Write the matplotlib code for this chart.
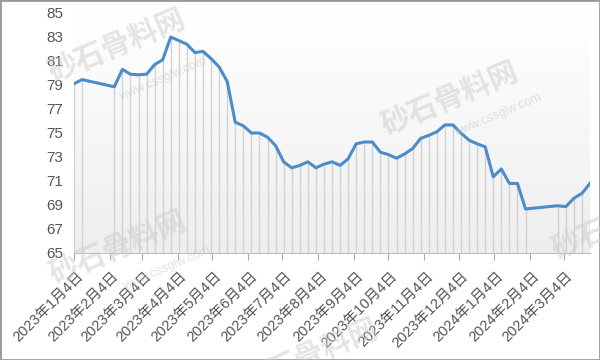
import matplotlib
matplotlib.use('Agg')
import matplotlib.pyplot as plt
import matplotlib.transforms as mtransforms
from matplotlib.colors import LinearSegmentedColormap
from matplotlib.patches import Rectangle
import matplotlib.dates as mdates
import numpy as np
import pandas as pd

dates = [
    '2023-01-04', '2023-01-11',
    '2023-02-08', '2023-02-15', '2023-02-22', '2023-03-01', '2023-03-08', '2023-03-15',
    '2023-03-22', '2023-03-29', '2023-04-05', '2023-04-12', '2023-04-19', '2023-04-26',
    '2023-05-03', '2023-05-10', '2023-05-17', '2023-05-24', '2023-05-31', '2023-06-07',
    '2023-06-14', '2023-06-21', '2023-06-28', '2023-07-05', '2023-07-12', '2023-07-19',
    '2023-07-26', '2023-08-02', '2023-08-09', '2023-08-16', '2023-08-23', '2023-08-30',
    '2023-09-06', '2023-09-13', '2023-09-20', '2023-09-27', '2023-10-04', '2023-10-11',
    '2023-10-18', '2023-10-25', '2023-11-01', '2023-11-08', '2023-11-15', '2023-11-22',
    '2023-11-29', '2023-12-06', '2023-12-13', '2023-12-20', '2023-12-27', '2024-01-03',
    '2024-01-10', '2024-01-17', '2024-01-24', '2024-01-31',
    '2024-02-28', '2024-03-06', '2024-03-13', '2024-03-20', '2024-03-27',
]
values = [
    79.1, 79.45,
    78.85, 80.3, 79.9, 79.85, 79.9, 80.7,
    81.1, 83.0, 82.7, 82.4, 81.7, 81.8,
    81.2, 80.5, 79.3, 75.9, 75.6, 75.0,
    75.0, 74.65, 73.95, 72.6, 72.1, 72.3,
    72.6, 72.1, 72.4, 72.6, 72.3, 72.85,
    74.1, 74.25, 74.25, 73.4, 73.2, 72.9,
    73.25, 73.7, 74.55, 74.8, 75.1, 75.67,
    75.67, 75.0, 74.4, 74.1, 73.85, 71.35,
    72.0, 70.8, 70.8, 68.67,
    68.94, 68.86, 69.56, 69.97, 70.8,
]
tick_dates = ['2023-01-04', '2023-02-04', '2023-03-04', '2023-04-04', '2023-05-04',
              '2023-06-04', '2023-07-04', '2023-08-04', '2023-09-04', '2023-10-04',
              '2023-11-04', '2023-12-04', '2024-01-04', '2024-02-04', '2024-03-04']
tick_labels = ['2023年1月4日', '2023年2月4日', '2023年3月4日', '2023年4月4日', '2023年5月4日',
               '2023年6月4日', '2023年7月4日', '2023年8月4日', '2023年9月4日', '2023年10月4日',
               '2023年11月4日', '2023年12月4日', '2024年1月4日', '2024年2月4日', '2024年3月4日']
y_ticks = [65, 67, 69, 71, 73, 75, 77, 79, 81, 83, 85]

plt.rcParams['font.family'] = ['Liberation Sans', 'Noto Sans CJK SC', 'DejaVu Sans']

x = pd.to_datetime(dates)
xt = pd.to_datetime(tick_dates)

fig = plt.figure(figsize=(6, 3.6), dpi=100)
fig.patch.set_facecolor('white')
ax = fig.add_axes([74 / 600, 107 / 360, 516 / 600, 240 / 360])

x0 = mdates.date2num(x[0])
x1 = mdates.date2num(x[-1])
cmap = LinearSegmentedColormap.from_list('bg', ['#ffffff', '#eeeeee'])
ax.imshow(np.linspace(0, 1, 256).reshape(-1, 1), extent=[x0, x1, 65, 85],
          aspect='auto', cmap=cmap, origin='upper', zorder=0, interpolation='bilinear')

ax.vlines(x, 65, values, color='#d2d2d2', lw=1, zorder=1)
ax.plot(x, values, color='#4a8dca', lw=2.2, zorder=4, solid_joinstyle='round')

ax.set_xlim(x0, x1)
ax.set_ylim(65, 85)
ax.set_yticks(y_ticks)
ax.set_xticks(xt)
ax.set_xticklabels([])
base = mtransforms.blended_transform_factory(ax.transData, ax.transAxes)
offset = mtransforms.ScaledTranslation(0.07, -0.21, fig.dpi_scale_trans)
for d, lab in zip(xt, tick_labels):
    ax.text(mdates.date2num(d), 0, lab, transform=base + offset, rotation=45,
            ha='right', va='center', rotation_mode='anchor', fontsize=10.5,
            color='#555555', clip_on=False)
ax.tick_params(axis='y', length=0, pad=8, labelsize=11, labelcolor='#555555')
ax.tick_params(axis='x', length=5, color='#aaaaaa', pad=3)
for s in ['top', 'right', 'left']:
    ax.spines[s].set_visible(False)
ax.spines['bottom'].set_color('#c0c0c0')
ax.set_facecolor('none')

# watermarks
wm_main = [(117, 45), (450, 98), (118, 247), (620, 222), (310, 355)]
wm_url = [(163, 79), (498, 115), (167, 268)]
for (px, py) in wm_main:
    fig.text(px / 600, 1 - py / 360, '砂石骨料网', family=['Noto Sans CJK SC'],
             fontsize=21, fontweight='bold', color='#cccccc', alpha=0.5,
             rotation=23, ha='center', va='center', zorder=3)
for (px, py) in wm_url:
    fig.text(px / 600, 1 - py / 360, 'www.cssglw.com', fontsize=9,
             color='#cccccc', alpha=0.6, rotation=23, ha='center', va='center', zorder=3)

fig.patches.append(Rectangle((0, 0), 1, 1, transform=fig.transFigure, fill=False,
                             edgecolor='#999999', lw=2))

fig.savefig('out.png', dpi=100)
